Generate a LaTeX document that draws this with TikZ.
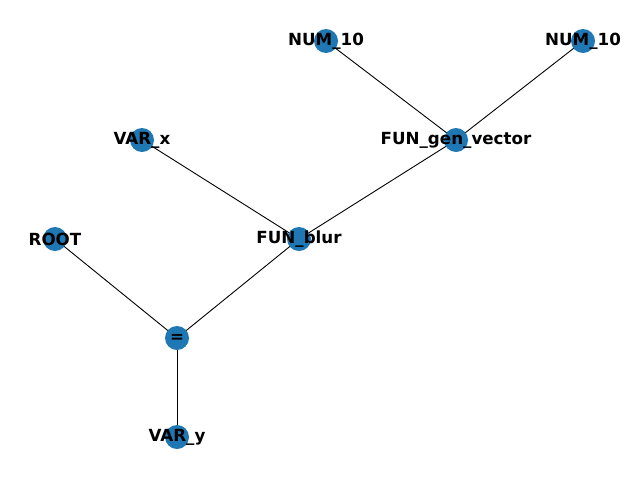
\documentclass[tikz,border=0pt]{standalone}
\usepackage{fontspec}
\setmainfont{DejaVu Sans}
\definecolor{nxblue}{HTML}{1F77B4}
\begin{document}
\begin{tikzpicture}[x=1pt,y=-1pt,
  vert/.style={circle,fill=nxblue,minimum size=24pt,inner sep=0pt},
  lbl/.style={font=\bfseries\fontsize{16.7}{20}\selectfont,inner sep=0pt},
  edge/.style={draw=black,line width=0.9pt}]
\useasboundingbox (0,0) rectangle (636,477);
\coordinate (pn1) at (326,41);
\coordinate (pn2) at (583,41);
\coordinate (pvx) at (142,140);
\coordinate (pgv) at (456,140);
\coordinate (prt) at (55,239);
\coordinate (pfb) at (299,239);
\coordinate (peq) at (177,338);
\coordinate (pvy) at (177,437);
\draw[edge] (pn1) -- (pgv);
\draw[edge] (pn2) -- (pgv);
\draw[edge] (pvx) -- (pfb);
\draw[edge] (pgv) -- (pfb);
\draw[edge] (prt) -- (peq);
\draw[edge] (pfb) -- (peq);
\draw[edge] (peq) -- (pvy);
\node[vert] (n1) at (pn1) {};
\node[vert] (n2) at (pn2) {};
\node[vert] (vx) at (pvx) {};
\node[vert] (gv) at (pgv) {};
\node[vert] (rt) at (prt) {};
\node[vert] (fb) at (pfb) {};
\node[vert] (eq) at (peq) {};
\node[vert] (vy) at (pvy) {};
\node[lbl] (t1) at (n1) {NUM\_10};
\node[lbl] (t2) at (n2) {NUM\_10};
\node[lbl] (t3) at (vx) {VAR\_x};
\node[lbl] (t4) at (gv) {FUN\_gen\_vector};
\node[lbl] (t5) at (rt) {ROOT};
\node[lbl] (t6) at (fb) {FUN\_blur};
\node[lbl] (t7) at (eq) {=};
\node[lbl] (t8) at (vy) {VAR\_y};
\end{tikzpicture}
\end{document}
